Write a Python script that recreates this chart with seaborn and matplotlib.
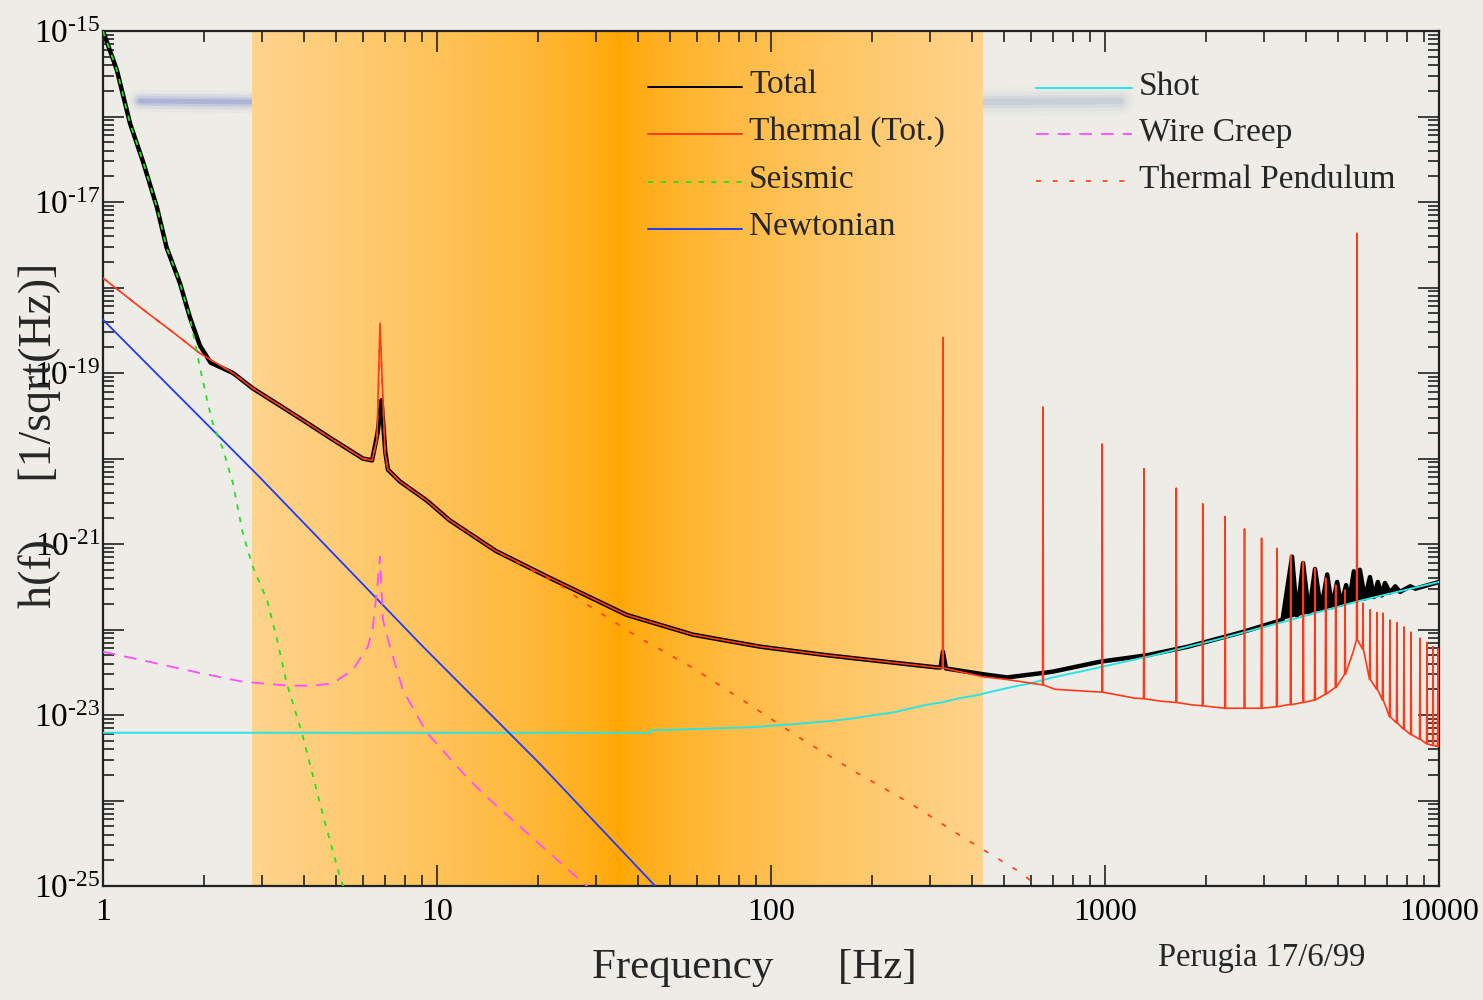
import matplotlib
matplotlib.use("Agg")
import numpy as np
import matplotlib.pyplot as plt
import seaborn as sns
from matplotlib.lines import Line2D
from matplotlib.ticker import LogLocator, NullFormatter

# ---------------- sensitivity curves, h(f) in 1/sqrt(Hz) ----------------
total_freq = [1.0, 1.10, 1.205, 1.32, 1.45, 1.55, 1.70, 1.82, 1.95, 2.1,
              2.45, 2.81, 3.89, 4.88, 6.0, 6.39, 6.64, 6.82, 7.0, 7.13,
              7.74, 9.34, 10.9, 15.0, 21.8, 37.0, 58.4, 92.7, 147, 232,
              314, 322, 327, 334, 431, 509, 694, 966, 1336, 1773,
              2572, 3400, 3631, 3758, 3917, 4080, 4254, 4433, 4627, 4786,
              4954, 5094, 5271, 5383, 5559, 5640, 5795, 5998, 6213, 6385,
              6561, 6745, 6890, 7130, 7400, 7640, 8200, 8500, 10000]
total_h = [1.0e-15, 3.5e-16, 8.3e-17, 2.9e-17, 8.7e-18, 2.95e-18, 1.12e-18, 4.5e-19, 2.1e-19, 1.32e-19,
           1.0e-19, 6.6e-20, 2.95e-20, 1.66e-20, 1.0e-20, 9.5e-21, 2.0e-20, 4.8e-20, 1.2e-20, 7.4e-21,
           5.4e-21, 3.2e-21, 1.9e-21, 8.3e-22, 4.0e-22, 1.48e-22, 8.7e-23, 6.3e-23, 5.0e-23, 4.1e-23,
           3.6e-23, 3.6e-23, 5.5e-23, 3.5e-23, 3.0e-23, 2.75e-23, 3.2e-23, 4.2e-23, 5.0e-23, 6.3e-23,
           9.3e-23, 1.3e-22, 7.1e-22, 1.45e-22, 6.0e-22, 1.55e-22, 5.1e-22, 1.7e-22, 4.4e-22, 1.82e-22,
           3.6e-22, 1.95e-22, 3.3e-22, 2.1e-22, 4.8e-22, 2.25e-22, 5.0e-22, 2.3e-22, 4.1e-22, 2.4e-22,
           3.6e-22, 2.5e-22, 3.5e-22, 2.7e-22, 3.2e-22, 2.75e-22, 3.2e-22, 3.0e-22, 3.6e-22]

thermal_freq = [1.0, 1.32, 1.62, 1.95, 2.45, 2.81, 3.89, 4.88, 6.0, 6.39,
                6.61, 6.75, 6.89, 6.99, 7.13, 7.74, 9.34, 10.9, 15.0, 21.8,
                37.0, 58.4, 92.7, 147, 232, 314, 431, 509, 708, 1222,
                1472, 1808, 2350, 3532, 5534]
thermal_h = [1.29e-18, 5.5e-19, 3.0e-19, 1.7e-19, 1.0e-19, 6.6e-20, 2.95e-20, 1.66e-20, 1.0e-20, 9.5e-21,
             1.66e-20, 3.8e-19, 4.8e-20, 1.15e-20, 7.4e-21, 5.4e-21, 3.2e-21, 1.9e-21, 8.3e-22, 4.0e-22,
             1.48e-22, 8.7e-23, 6.3e-23, 5.0e-23, 4.1e-23, 3.6e-23, 2.8e-23, 2.6e-23, 2.0e-23, 1.58e-23,
             1.45e-23, 1.32e-23, 1.2e-23, 1.32e-23, 5.5e-23]

# violin-mode resonances riding on the thermal floor
violin_freq = [327, 652, 981, 1308, 1635, 1962, 2289, 2616, 2943, 3270,
               3597, 3924, 4251, 4578, 4905, 5232, 5680, 5920, 6213, 6520,
               6790, 7130, 7480, 7855, 8245, 8770, 9205, 9595, 9930]
violin_top = [2.6e-19, 4.0e-20, 1.48e-20, 7.6e-21, 4.5e-21, 2.95e-21, 2.1e-21, 1.5e-21, 1.17e-21, 8.9e-22,
              7.4e-22, 6.2e-22, 5.2e-22, 4.0e-22, 3.3e-22, 2.9e-22, 4.3e-18, 2.04e-22, 1.7e-22, 1.58e-22,
              1.55e-22, 1.29e-22, 1.2e-22, 1.07e-22, 9.3e-23, 7.9e-23, 7.1e-23, 6.3e-23, 6.0e-23]
violin_floor = [3.55e-23, 2.25e-23, 1.85e-23, 1.55e-23, 1.4e-23, 1.28e-23, 1.2e-23, 1.2e-23, 1.2e-23, 1.25e-23,
                1.32e-23, 1.4e-23, 1.5e-23, 1.75e-23, 2.1e-23, 3.0e-23, 7.6e-23, 5.9e-23, 2.6e-23, 2.0e-23,
                1.5e-23, 9.5e-24, 8.1e-24, 6.8e-24, 5.9e-24, 5.2e-24, 4.6e-24, 4.4e-24, 4.3e-24]

seismic_freq = [1.0, 1.10, 1.205, 1.32, 1.45, 1.55, 1.70, 1.82, 1.95, 2.05,
                2.13, 2.29, 2.45, 2.62, 2.81, 3.10, 3.32, 3.55, 3.94, 4.31,
                4.62, 5.12, 5.4]
seismic_h = [1.0e-15, 3.5e-16, 8.3e-17, 2.9e-17, 8.7e-18, 2.95e-18, 1.12e-18, 4.5e-19, 1.17e-19, 4.8e-20,
             2.6e-20, 1.26e-20, 5.1e-21, 1.35e-21, 5.4e-22, 2.2e-22, 7.6e-23, 2.35e-23, 6.2e-24, 1.58e-24,
             5.5e-25, 1.29e-25, 7.0e-26]

newton_freq = [1.0, 1.62, 2.95, 4.88, 9.08, 15.8, 20.3, 45.0, 50.0]
newton_h = [4.2e-19, 6.3e-20, 6.0e-21, 7.8e-22, 6.3e-23, 7.2e-24, 2.7e-24, 1.0e-25, 6.5e-26]

shot_freq = [1.0, 43.4, 43.5, 87.7, 116, 150, 175, 205, 232, 293,
             327, 368, 414, 453, 531, 596, 698, 921, 1402, 2240,
             3580, 5720, 10000]
shot_h = [6.2e-24, 6.2e-24, 6.6e-24, 7.2e-24, 7.8e-24, 8.5e-24, 9.1e-24, 1.0e-23, 1.07e-23, 1.32e-23,
          1.41e-23, 1.58e-23, 1.7e-23, 1.86e-23, 2.14e-23, 2.34e-23, 2.75e-23, 3.47e-23, 5.0e-23, 7.9e-23,
          1.29e-22, 2.14e-22, 3.6e-22]

creep_freq = [1.0, 1.41, 1.95, 2.62, 3.63, 4.25, 4.88, 5.61, 6.21, 6.43,
              6.66, 6.75, 6.89, 7.23, 7.91, 9.33, 10.57, 12.3, 14.1, 26.8, 29.0]
creep_h = [5.5e-23, 4.1e-23, 3.1e-23, 2.45e-23, 2.2e-23, 2.2e-23, 2.35e-23, 3.4e-23, 6.3e-23, 1.07e-22,
           3.8e-22, 7.1e-22, 1.29e-22, 6.3e-23, 1.95e-23, 6.2e-24, 3.6e-24, 1.86e-24, 1.1e-24, 1.17e-25, 9.0e-26]

tpend_freq = [1.0, 1.32, 1.62, 1.95, 2.45, 2.81, 3.89, 4.88, 6.0, 6.39,
              6.61, 6.75, 6.89, 6.99, 7.13, 7.74, 9.34, 10.9, 15.0, 23.4,
              27.4, 39.7, 58.4, 84.8, 122, 181, 261, 376, 557, 650]
tpend_h = [1.29e-18, 5.5e-19, 3.0e-19, 1.7e-19, 1.0e-19, 6.6e-20, 2.95e-20, 1.66e-20, 1.0e-20, 9.5e-21,
           1.66e-20, 2.95e-19, 4.8e-20, 1.15e-20, 7.4e-21, 5.4e-21, 3.2e-21, 1.9e-21, 8.3e-22, 3.3e-22,
           2.1e-22, 8.3e-23, 3.55e-23, 1.38e-23, 5.4e-24, 2.1e-24, 9.3e-25, 3.7e-25, 1.45e-25, 8.9e-26]

x_ticks = [1, 10, 100, 1000, 10000]
x_ticklabels = ["1", "10", "100", "1000", "10000"]
y_exponents = [-25, -24, -23, -22, -21, -20, -19, -18, -17, -16, -15]

band_lo, band_hi, band_mid = 2.8, 430.0, 35.0

# ---------------- styling ----------------
sns.set_theme(style="ticks")
plt.rcParams["font.family"] = ["Liberation Serif", "DejaVu Serif"]
plt.rcParams["mathtext.fontset"] = "custom"
plt.rcParams["mathtext.rm"] = "Liberation Serif"
plt.rcParams["mathtext.it"] = "Liberation Serif:italic"
plt.rcParams["mathtext.bf"] = "Liberation Serif:bold"

W, H = 1483, 1000
BG = "#EDECE6"
RED = "#FF3A1A"
GREEN = "#22E022"
BLUE = "#1F3BFF"
CYAN = "#2AE4E4"
MAGENTA = "#FF4DFF"

def fx(px):
    return px / W

def fy(py):
    return 1 - py / H

fig = plt.figure(figsize=(W / 100, H / 100), dpi=100, facecolor=BG)

# soft bluish brush stroke of the slide background
for lw, a in [(16, 0.06), (11, 0.12), (7, 0.22), (3.5, 0.35)]:
    fig.add_artist(Line2D([fx(140), fx(255)], [fy(101), fy(102)], color="#7F90D2",
                          lw=lw, alpha=a, solid_capstyle="round", zorder=-2))
    fig.add_artist(Line2D([fx(985), fx(1120)], [fy(102), fy(101)], color="#A9B2CE",
                          lw=lw * 1.3, alpha=a * 0.8, solid_capstyle="round", zorder=-2))

ax = fig.add_axes([fx(103), fy(886), (1439 - 103) / W, (886 - 31) / H])
ax.set_facecolor("none")
ax.set_xscale("log")
ax.set_yscale("log")
ax.set_xlim(1, 1e4)
ax.set_ylim(1e-25, 1e-15)

# orange detection band, darkest in the middle
edges = np.logspace(np.log10(band_lo), np.log10(band_hi), 301)
light = np.array([254, 211, 140]) / 255
dark = np.array([255, 165, 0]) / 255
umid = np.log10(band_mid)
half = max(umid - np.log10(band_lo), np.log10(band_hi) - umid)
for a, b in zip(edges[:-1], edges[1:]):
    u = 0.5 * (np.log10(a) + np.log10(b))
    t = min(abs(u - umid) / half, 1.0) ** 0.65
    col = dark + (light - dark) * t
    ax.axvspan(a, b * 1.002, color=col, lw=0, antialiased=False, zorder=0.5)

def draw(f, h, **kw):
    sns.lineplot(x=f, y=h, estimator=None, sort=False, ax=ax, legend=False, **kw)

# total noise
draw(total_freq, total_h, color="black", lw=3.2, zorder=2)
tf = np.array(total_freq)
th = np.array(total_h)
sel = tf >= 3400
ax.fill(tf[sel], th[sel], color="black", lw=0, zorder=2)

# thermal: smooth floor plus narrow resonance spikes
spike_hw = 0.003
sp_f, sp_h = [], []
for f0, top, fl in zip(violin_freq, violin_top, violin_floor):
    sp_f += [f0 * (1 - spike_hw), f0, f0 * (1 + spike_hw)]
    sp_h += [fl, top, fl]
th_f = np.array(thermal_freq + sp_f)
th_h = np.array(thermal_h + sp_h)
order = np.argsort(th_f, kind="stable")

draw(shot_freq, shot_h, color=CYAN, lw=1.4, zorder=3)
draw(newton_freq, newton_h, color=BLUE, lw=1.3, zorder=3)
draw(creep_freq, creep_h, color=MAGENTA, lw=1.3, linestyle=(0, (7, 5)), zorder=3)
draw(tpend_freq, tpend_h, color=RED, lw=1.2, linestyle=(0, (3, 7)), zorder=3)
draw(th_f[order], th_h[order], color=RED, lw=1.2, zorder=4)
draw(seismic_freq, seismic_h, color=GREEN, lw=1.3, linestyle=(0, (3, 4)), zorder=5)

# axes, ticks, labels
for s in ax.spines.values():
    s.set_color("#222222")
    s.set_linewidth(1.6)
ax.set_xticks(x_ticks)
ax.set_xticklabels(x_ticklabels)
ax.xaxis.set_minor_locator(LogLocator(base=10, subs=np.arange(2, 10), numticks=20))
ax.xaxis.set_minor_formatter(NullFormatter())
ax.set_yticks([10.0 ** e for e in y_exponents])
ax.set_yticklabels([r"$10^{\text{%d}}$" % e if e % 2 else "" for e in y_exponents])
ax.yaxis.set_minor_locator(LogLocator(base=10, subs=np.arange(2, 10), numticks=20))
ax.yaxis.set_minor_formatter(NullFormatter())
ax.tick_params(which="both", direction="in", top=True, right=True, color="#222222", width=1.2)
ax.tick_params(which="major", length=15)
ax.tick_params(which="minor", length=8)
ax.tick_params(axis="x", which="major", labelsize=23, pad=9, labelcolor="black")
ax.tick_params(axis="y", which="major", labelsize=24, pad=2, labelcolor="black")
ax.set_xlabel("")
ax.set_ylabel("")

fig.text(fx(754), fy(968), "Frequency      [Hz]", fontsize=31, ha="center", va="center")
fig.text(fx(40), fy(435), "h(f)     [1/sqrt(Hz)]", fontsize=33, rotation=90,
         ha="center", va="center")
fig.text(fx(1158), fy(958), "Perugia 17/6/99", fontsize=23.5, ha="left", va="center")

# legend, two columns
legend_left = [("Total", dict(color="black", lw=1.4)),
               ("Thermal (Tot.)", dict(color=RED, lw=1.4)),
               ("Seismic", dict(color=GREEN, lw=1.3, linestyle=(0, (3, 4)))),
               ("Newtonian", dict(color=BLUE, lw=1.4))]
legend_right = [("Shot", dict(color=CYAN, lw=1.4)),
                ("Wire Creep", dict(color=MAGENTA, lw=1.3, linestyle=(0, (7, 5)))),
                ("Thermal Pendulum", dict(color=RED, lw=1.2, linestyle=(0, (3, 7))))]
for (label, st), y in zip(legend_left, [87, 134, 182, 229]):
    fig.add_artist(Line2D([fx(648), fx(742)], [fy(y), fy(y)], zorder=6, **st))
    fig.text(fx(749), fy(y - 2), label, fontsize=24, ha="left", va="center", zorder=6)
for (label, st), y in zip(legend_right, [88, 134, 181]):
    fig.add_artist(Line2D([fx(1036), fx(1132)], [fy(y), fy(y)], zorder=6, **st))
    fig.text(fx(1139), fy(y - 1), label, fontsize=24, ha="left", va="center", zorder=6)

fig.savefig("out.png", dpi=100, facecolor=BG)
